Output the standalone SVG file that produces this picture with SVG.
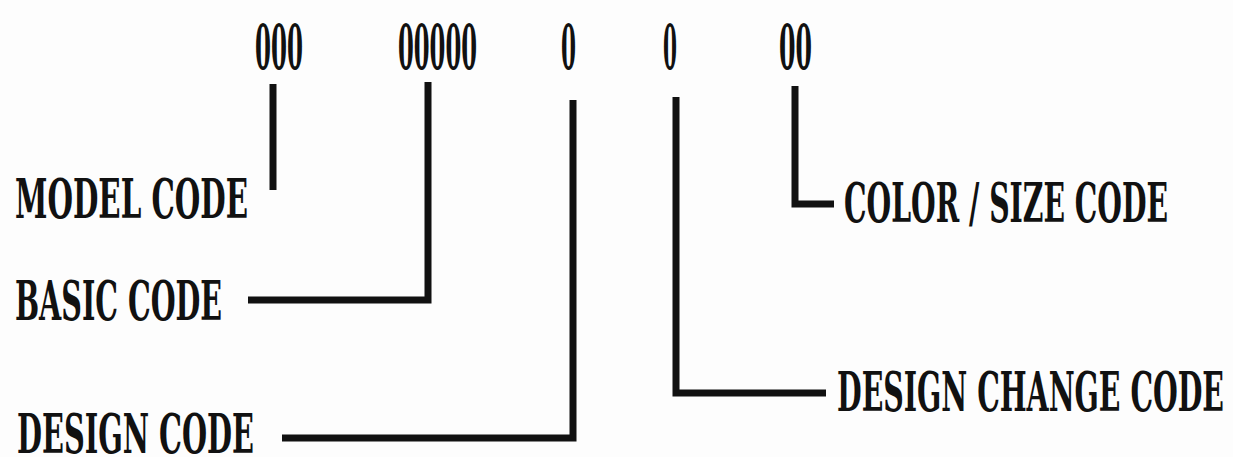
<svg xmlns="http://www.w3.org/2000/svg" width="1233" height="457" viewBox="0 0 1233 457">
<style>
.t{font-family:"DejaVu Serif","Liberation Serif",serif;font-weight:bold;font-stretch:condensed;fill:#111;font-size:54px}
.d{font-family:"DejaVu Serif","Liberation Serif",serif;font-weight:bold;font-stretch:condensed;fill:#111;font-size:62px}
.c{fill:none;stroke:#111;stroke-width:7;stroke-linejoin:miter;stroke-linecap:butt}
</style>
<rect width="1233" height="457" fill="#fdfdfd"/>
<g id="digits">
<text class="d" x="255" y="69" textLength="48" lengthAdjust="spacingAndGlyphs">000</text>
<text class="d" x="398" y="69" textLength="79" lengthAdjust="spacingAndGlyphs">00000</text>
<text class="d" x="561" y="69" textLength="15" lengthAdjust="spacingAndGlyphs">0</text>
<text class="d" x="663" y="69" textLength="14" lengthAdjust="spacingAndGlyphs">0</text>
<text class="d" x="779" y="69" textLength="33" lengthAdjust="spacingAndGlyphs">00</text>
</g>
<g id="model-code"><text class="t" x="15" y="218" textLength="233" lengthAdjust="spacingAndGlyphs">MODEL CODE</text></g>
<g id="basic-code"><text class="t" x="15" y="320" textLength="207" lengthAdjust="spacingAndGlyphs">BASIC CODE</text></g>
<g id="design-code"><text class="t" x="17" y="453" textLength="237" lengthAdjust="spacingAndGlyphs">DESIGN CODE</text></g>
<g id="color-size-code"><text class="t" x="844" y="222" textLength="324" lengthAdjust="spacingAndGlyphs">COLOR / SIZE CODE</text></g>
<g id="design-change-code"><text class="t" x="837" y="411" textLength="387" lengthAdjust="spacingAndGlyphs">DESIGN  CHANGE CODE</text></g>
<g id="connectors">
<path class="c" d="M273 84 V190"/>
<path class="c" d="M428 82 V300 H248"/>
<path class="c" d="M573 100 V438 H282"/>
<path class="c" d="M676 97 V393 H826"/>
<path class="c" d="M795 86 V204 H834"/>
</g>
</svg>
